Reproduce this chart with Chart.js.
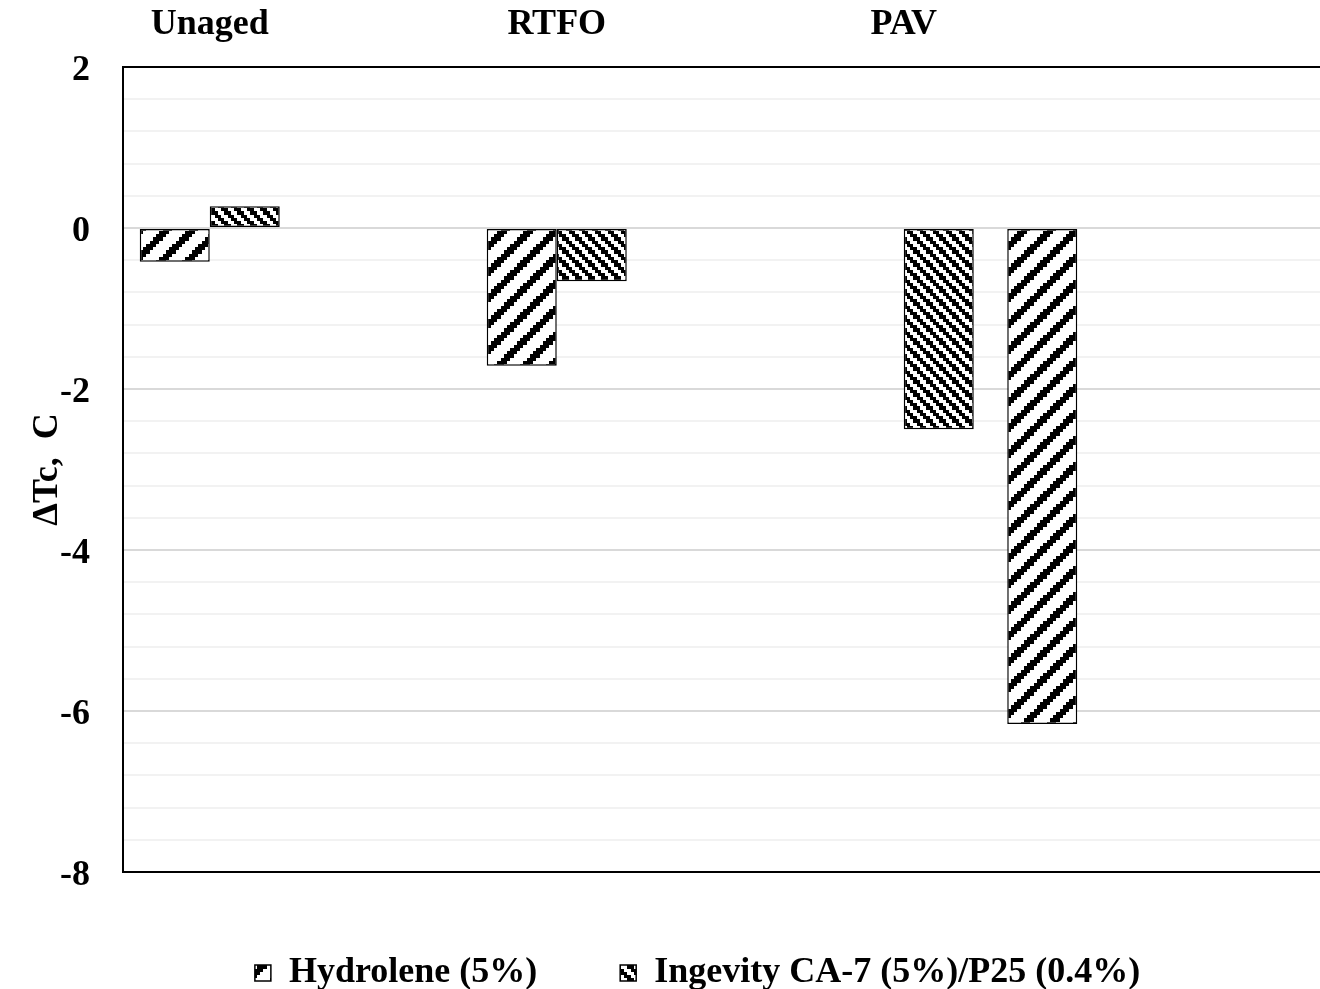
<!DOCTYPE html>
<html>
<head>
<meta charset="utf-8">
<title>ΔTc by aging state</title>
<script src="https://cdn.jsdelivr.net/npm/chart.js@4.4.1/dist/chart.umd.min.js"></script>
<style>
  html, body { margin: 0; padding: 0; background: #fff; overflow: hidden; }
  canvas { display: block; }
</style>
</head>
<body>
<canvas id="chart" width="1395" height="1001"></canvas>
<script>
// Category slots along the x axis (blank slots keep the spacing between groups)
const categories = ['Unaged', '', 'RTFO', '', 'PAV', '', ''];

// ΔTc values, °C
const hydrolene = [-0.42, null, -1.71, null, null, -6.16, null];
const ingevity  = [0.27, null, -0.66, null, -2.50, null, null];

const seriesNames = ['Hydrolene (5%)', 'Ingevity CA-7 (5%)/P25 (0.4%)'];

// Value axis range and gridline spacing
const yMin = -8;
const yMax = 2;
const yMajorStep = 2;
const yMinorStep = 0.4;

const axisTitle = 'ΔTc,  C';

const FONT = { family: '"Liberation Serif", "Times New Roman", serif', size: 36, weight: 'bold' };

// Pixel-block hatch fills: a small cell pattern blown up to `size` pixels per tile
function hatch(cells, size, isInk) {
  const c = document.createElement('canvas');
  c.width = c.height = size;
  const g = c.getContext('2d');
  g.fillStyle = '#fff';
  g.fillRect(0, 0, size, size);
  g.fillStyle = '#000';
  const edge = i => Math.round(i * size / cells);
  for (let y = 0; y < cells; y++) {
    for (let x = 0; x < cells; x++) {
      if (isInk(x, y)) g.fillRect(edge(x), edge(y), edge(x + 1) - edge(x), edge(y + 1) - edge(y));
    }
  }
  return g.createPattern(c, 'repeat');
}
const wideUpDiagonal = hatch(8, 26, (x, y) => ((x + y) % 8) < 3);
const darkDownDiagonal = hatch(4, 13, (x, y) => ((x - y + 8) % 4) < 2);

const isMajor = v => Math.abs(v / yMajorStep - Math.round(v / yMajorStep)) < 1e-6;

// Black frame round the plot area
const plotFrame = {
  id: 'plotFrame',
  afterDraw(chart) {
    const { ctx, chartArea: a } = chart;
    ctx.save();
    ctx.strokeStyle = '#000';
    ctx.lineWidth = 2;
    ctx.strokeRect(a.left, a.top, a.right - a.left, a.bottom - a.top);
    ctx.restore();
  }
};

const barStyle = {
  borderColor: '#000',
  borderWidth: 1.5,
  borderSkipped: false,
  categoryPercentage: 0.807,
  barPercentage: 1.0
};

new Chart(document.getElementById('chart'), {
  type: 'bar',
  data: {
    labels: categories,
    datasets: [
      Object.assign({ label: seriesNames[0], data: hydrolene, backgroundColor: wideUpDiagonal }, barStyle),
      Object.assign({ label: seriesNames[1], data: ingevity, backgroundColor: darkDownDiagonal }, barStyle)
    ]
  },
  options: {
    responsive: false,
    animation: false,
    devicePixelRatio: 1,
    layout: { padding: 0 },
    plugins: {
      legend: {
        position: 'bottom',
        labels: { font: FONT, color: '#000', boxWidth: 16, boxHeight: 16, padding: 83 }
      },
      tooltip: { enabled: false }
    },
    scales: {
      x: {
        type: 'category',
        position: 'top',
        grid: { display: false, drawTicks: false },
        border: { display: false },
        ticks: { font: FONT, color: '#000', padding: 21, autoSkip: false, maxRotation: 0, minRotation: 0 },
        afterFit: s => { s.height = 67; }
      },
      y: {
        min: yMin,
        max: yMax,
        grid: {
          drawTicks: false,
          lineWidth: 2,
          color: c => (isMajor(c.tick.value) ? '#d9d9d9' : '#f2f2f2')
        },
        border: { display: false },
        ticks: {
          font: FONT,
          color: '#000',
          padding: 33,
          labelOffset: 4,
          autoSkip: false,
          callback: v => (isMajor(v) ? String(Math.round(v)) : '')
        },
        afterBuildTicks: s => {
          const ticks = [];
          const n = Math.round((yMax - yMin) / yMinorStep);
          for (let i = 0; i <= n; i++) {
            ticks.push({ value: Math.round((yMin + i * yMinorStep) * 1000) / 1000 });
          }
          s.ticks = ticks;
        },
        title: {
          display: true,
          text: axisTitle,
          font: FONT,
          color: '#000',
          padding: { top: 26, bottom: 0 }
        },
        afterFit: s => { s.width = 123; }
      },
      yRight: {
        position: 'right',
        grid: { display: false, drawTicks: false },
        border: { display: false },
        ticks: { display: false },
        afterFit: s => { s.width = 57.5; }
      }
    }
  },
  plugins: [plotFrame]
});
</script>
</body>
</html>
